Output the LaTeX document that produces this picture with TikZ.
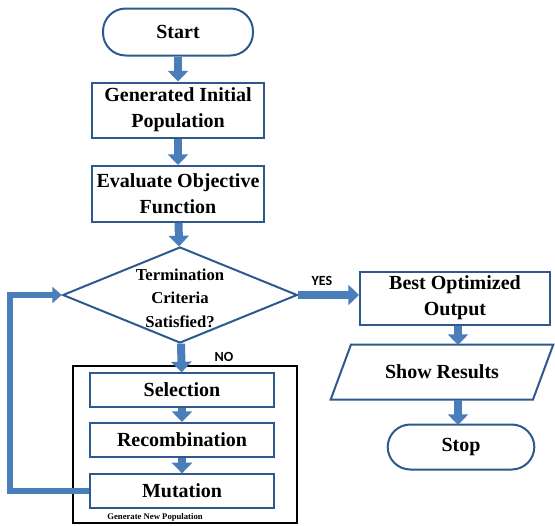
\documentclass[tikz,border=0pt]{standalone}
\usepackage{fontspec}
\newfontfamily\boxfont{LiberationSerif-Bold.ttf}
\newfontfamily\yesnofont{Carlito-Bold.ttf}
\usetikzlibrary{positioning}
\usetikzlibrary{shapes.geometric}
\usetikzlibrary{arrows.meta}

\definecolor{edgeblue}{RGB}{46,89,140}
\definecolor{flowblue}{RGB}{74,126,187}

\tikzset{
  box/.style = {draw = edgeblue, line width = 1.5pt, fill = white, align = center,
                font = \boxfont\fontsize{15}{19.5}\selectfont, inner sep = 0pt},
  terminal/.style = {box, rounded corners = 17pt},
  flow/.style = {draw = flowblue, line width = 6pt,
                 -{Triangle[width = 15pt, length = 8pt]}},
  backflow/.style = {draw = flowblue, line width = 5pt, line join = miter,
                     -{Triangle[width = 12pt, length = 7pt]}},
  yesno/.style = {font = \yesnofont\fontsize{10.5}{12}\selectfont}
}

\begin{document}
\begin{tikzpicture}[x = 0.75pt, y = -0.75pt]
	\useasboundingbox (0, 0) rectangle (555, 525);
	\node [terminal, minimum width = 112.5pt, minimum height = 35.25pt] (start) at (178, 32) {Start};
	\node [box, minimum width = 129pt, minimum height = 41.25pt] (init) at (178, 110) {Generated Initial\\Population};
	\node [box, minimum width = 129pt, minimum height = 42pt] (eval) at (178, 194) {Evaluate Objective\\Function};
	\node [diamond, draw = edgeblue, line width = 1.5pt, minimum width = 176pt, minimum height = 72pt, inner sep = 0pt] (check) at (180, 295) {};
	\node [align = center, font = \boxfont\fontsize{12.5}{17.6}\selectfont] (checktext) at (180, 298) {Termination\\Criteria\\Satisfied?};
	\node [draw = black, line width = 1.1pt, minimum width = 168pt, minimum height = 117.75pt, inner sep = 0pt] (newpop) at (185, 444.5) {};
	\node [box, minimum width = 138pt, minimum height = 25pt] (select) at (182, 390) {Selection};
	\node [box, minimum width = 138pt, minimum height = 25.5pt] (recomb) at (182, 440) {Recombination};
	\node [box, minimum width = 138pt, minimum height = 25pt] (mutate) at (182, 491) {Mutation};
	\node [font = \boxfont\fontsize{6.5}{7}\selectfont] (newpoplabel) at (155, 517) {Generate New Population};
	\node [box, minimum width = 142.5pt, minimum height = 39.75pt] (best) at (455, 298) {Best Optimized\\Output};
	\node [box, trapezium, trapezium left angle = 48, trapezium right angle = 132, trapezium stretches = true,
	       minimum width = 167pt, minimum height = 41.25pt] (show) at (442, 372) {Show Results};
	\node [terminal, minimum width = 110pt, minimum height = 33.75pt] (stop) at (461, 447) {Stop};
	\node [yesno] (yes) at (322, 281) {YES};
	\node [yesno] (no) at (224, 357) {NO};
	\coordinate (back) at (10, 491);

	\draw [flow] (start) -- (init);
	\draw [flow] (init) -- (eval);
	\draw [flow] (eval) -- (check);
	\draw [flow] (check) -- (select);
	\draw [flow] (select) -- (recomb);
	\draw [flow] (recomb) -- (mutate);
	\draw [flow] (check.east) -- (check.east -| best.west);
	\draw [flow] (best.south -| 458, 0) -- (458, 345);
	\draw [flow] (458, 400) -- (458, 425);
	\draw [backflow] (mutate.west) -- (back) |- (check.west);
\end{tikzpicture}
\end{document}
